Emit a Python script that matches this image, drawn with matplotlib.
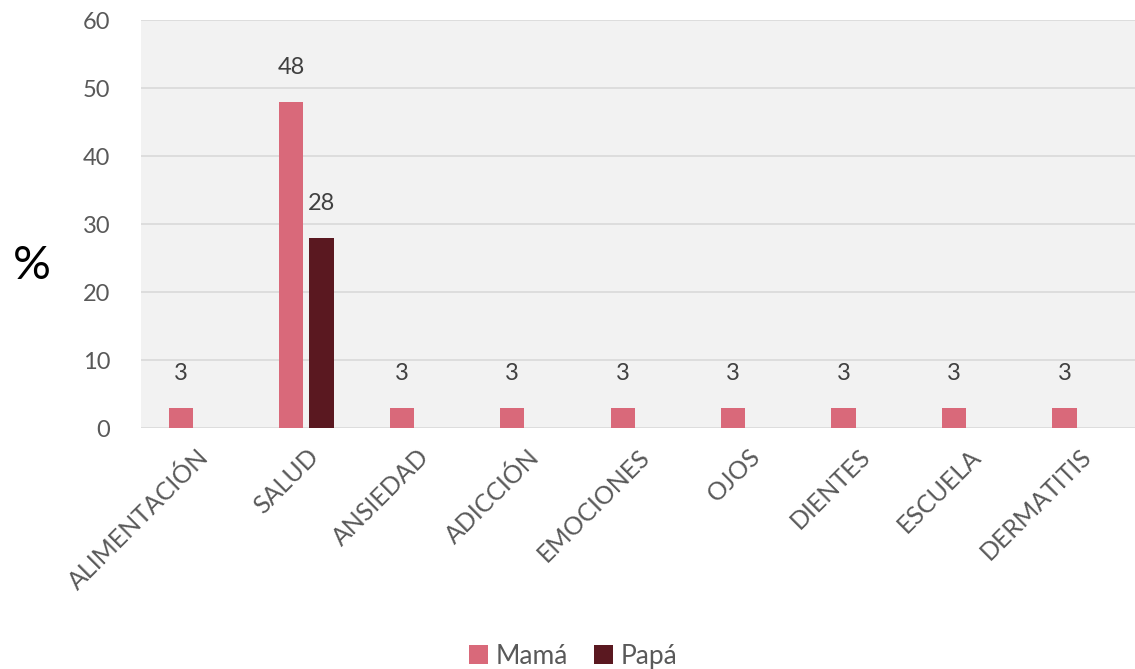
import matplotlib.pyplot as plt
import numpy as np

# Datos
categorias = ["ALIMENTACIÓN", "SALUD", "ANSIEDAD", "ADICCIÓN", "EMOCIONES",
              "OJOS", "DIENTES", "ESCUELA", "DERMATITIS"]
mama = [3, 48, 3, 3, 3, 3, 3, 3, 3]
papa = [0, 28, 0, 0, 0, 0, 0, 0, 0]

color_mama = "#d9697a"
color_papa = "#5a1820"

plt.rcParams['font.family'] = ['Lato', 'DejaVu Sans']

fig = plt.figure(figsize=(11.35, 6.69), dpi=100)
ax = fig.add_axes([0.124, 0.36, 0.876, 0.61])
ax.set_facecolor("#f2f2f2")

x = np.arange(len(categorias))
ancho = 0.22
sep = 0.275
b1 = ax.bar(x - sep / 2, mama, ancho, color=color_mama, label="Mamá", zorder=3)
b2 = ax.bar(x + sep / 2, papa, ancho, color=color_papa, label="Papá", zorder=3)

# Etiquetas de valores
for xi, v in zip(x - sep / 2, mama):
    if v > 0:
        ax.annotate(str(v), (xi, v), xytext=(0, 17), textcoords="offset points",
                    ha="center", va="bottom", fontsize=17, color="#404040")
for xi, v in zip(x + sep / 2, papa):
    if v > 0:
        ax.annotate(str(v), (xi, v), xytext=(0, 17), textcoords="offset points",
                    ha="center", va="bottom", fontsize=17, color="#404040")

ax.set_xlim(-0.5, len(categorias) - 0.5)
ax.set_ylim(0, 60)
ax.set_yticks(range(0, 61, 10))
ax.yaxis.grid(True, color="#d9d9d9", linewidth=1.2, zorder=0)
ax.set_axisbelow(True)
for s in ax.spines.values():
    s.set_visible(False)
ax.tick_params(axis="both", length=0, labelsize=17, labelcolor="#595959")
ax.tick_params(axis="y", pad=22)

ax.set_xticks(x)
ax.set_xticklabels(categorias, rotation=45, ha="right", rotation_mode="anchor",
                   fontsize=18)
ax.tick_params(axis="x", pad=12)

fig.text(0.028, 0.602, "%", fontsize=34, color="black", ha="center", va="center")

fig.legend(handles=[b1, b2], loc="lower center", bbox_to_anchor=(0.505, -0.035),
           ncol=2, frameon=False, fontsize=19, handlelength=0.7, handleheight=0.7,
           handletextpad=0.3, columnspacing=1.0, labelcolor="#595959")

plt.savefig("out.png", dpi=100)
